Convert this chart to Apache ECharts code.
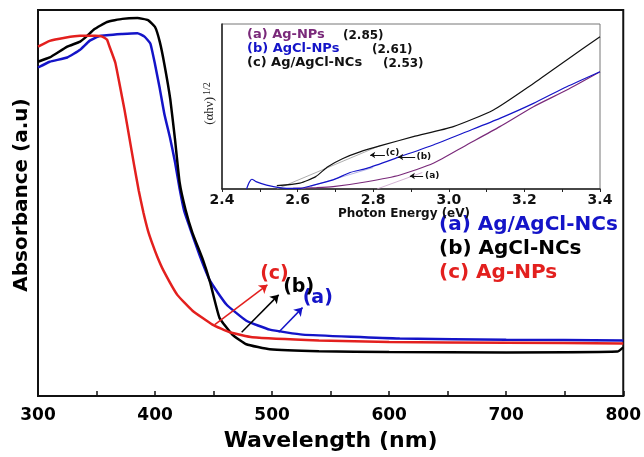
<!DOCTYPE html>
<html>
<head>
<meta charset="utf-8">
<script src="https://cdn.jsdelivr.net/npm/echarts@6/dist/echarts.min.js"></script>
<style>
  html, body { margin: 0; padding: 0; background: #fff; }
  #chart { width: 644px; height: 457px; }
</style>
</head>
<body>
<div id="chart"></div>
<script>
// main plot: absorbance vs wavelength
const wlTicks = [300, 400, 500, 600, 700, 800]
const seriesNames = ['(a) Ag/AgCl-NCs', '(b) AgCl-NCs', '(c) Ag-NPs']

const blueX = [300, 310, 325, 336, 344, 353, 372, 385, 391, 396, 400, 404, 408, 413, 417, 421, 425, 430, 438, 447, 461, 478, 498, 526, 609, 700, 800]
const blueY = [85.1, 86.6, 87.7, 89.7, 92.0, 93.3, 93.8, 94.0, 93.1, 91.3, 85.9, 79.7, 73.0, 66.6, 60.7, 53.7, 47.8, 43.4, 36.5, 29.8, 23.7, 19.5, 17.2, 15.9, 14.9, 14.6, 14.4]

const blackX = [300, 310, 325, 336, 342, 348, 359, 372, 385, 394, 400, 404, 408, 413, 417, 421, 426, 432, 441, 447, 455, 466, 478, 498, 540, 600, 700, 795, 800]
const blackY = [86.6, 87.7, 90.5, 91.8, 93.3, 95.0, 96.9, 97.7, 97.9, 97.4, 95.6, 91.8, 85.9, 76.9, 66.6, 55.3, 48.3, 42.2, 35.2, 29.5, 20.3, 15.9, 13.4, 12.1, 11.6, 11.4, 11.3, 11.5, 12.6]

const redX = [300, 310, 323, 336, 349, 355, 359, 361, 366, 370, 374, 378, 382, 386, 390, 394, 398, 402, 407, 419, 432, 449, 464, 483, 540, 600, 700, 800]
const redY = [90.5, 92.0, 92.8, 93.3, 93.3, 93.1, 92.3, 90.6, 86.4, 80.3, 74.0, 67.0, 60.0, 53.3, 47.6, 42.8, 39.2, 36.0, 32.6, 26.2, 22.1, 18.5, 16.5, 15.2, 14.4, 14.0, 13.8, 13.6]

// inset: (alpha h nu)^1/2 vs photon energy
const eTicks = [2.4, 2.6, 2.8, 3.0, 3.2, 3.4]
const insetNames = ['(a) Ag-NPs', '(b) AgCl-NPs', '(c) Ag/AgCl-NCs']
const insetGaps = ['(2.85)', '(2.61)', '(2.53)']

const aX = [2.588, 2.65, 2.694, 2.783, 2.871, 2.959, 3.047, 3.135, 3.224, 3.312, 3.4]
const aY = [0.4, 0.8, 1.4, 4.4, 8.5, 15.6, 26.7, 37.8, 49.9, 60.0, 71.1]

const bX = [2.465, 2.472, 2.479, 2.49, 2.518, 2.571, 2.606, 2.633, 2.694, 2.739, 2.783, 2.871, 2.959, 3.047, 3.135, 3.224, 3.312, 3.4]
const bY = [0, 4.0, 5.9, 4.5, 2.4, 0.4, 0.4, 1.8, 5.5, 10.0, 12.5, 19.6, 26.7, 34.7, 42.8, 51.9, 62.0, 71.1]

const cX = [2.545, 2.606, 2.648, 2.68, 2.72, 2.765, 2.827, 2.906, 3.012, 3.118, 3.224, 3.312, 3.4]
const cY = [2.0, 3.6, 7.5, 13.5, 18.5, 22.5, 26.7, 31.7, 37.8, 47.9, 64.0, 78.2, 92.3]

// band-gap tangent lines
const aTanX = [2.81, 2.93]
const aTanY = [0, 10]
const bTanX = [2.61, 2.80]
const bTanY = [0, 13]
const cTanX = [2.545, 2.82]
const cTanY = [0, 26.5]

const BLUE = '#1414c8'
const RED = '#e3201e'
const BLACK = '#000000'
const PURPLE = '#7a2a7a'
const FONT = 'DejaVu Sans'

const pts = (xs, ys) => xs.map((x, i) => [x, ys[i]])

function arrow (color, from, to, width, size) {
  return {
    silent: true,
    symbol: ['none', 'arrow'],
    symbolSize: size,
    label: { show: false },
    lineStyle: { color: color, width: width, type: 'solid' },
    emphasis: { disabled: true },
    data: [[{ coord: from }, { coord: to }]]
  }
}

function tag (text, color, at, size) {
  return {
    silent: true,
    symbol: 'circle',
    symbolSize: 0,
    label: { show: true, position: 'inside', formatter: text, color: color, fontFamily: FONT, fontWeight: 'bold', fontSize: size },
    data: [{ coord: at }]
  }
}

const chart = echarts.init(document.getElementById('chart'))

const option = {
  animation: false,
  backgroundColor: '#fff',
  grid: [
    { left: 38, top: 10, width: 586, height: 389, show: true, borderColor: '#111', borderWidth: 2 },
    { left: 222, top: 24, width: 378, height: 165, show: true, borderColor: '#777', borderWidth: 1, backgroundColor: '#fff' }
  ],
  xAxis: [
    {
      gridIndex: 0, type: 'value', min: wlTicks[0], max: wlTicks[wlTicks.length - 1], interval: wlTicks[1] - wlTicks[0],
      name: 'Wavelength (nm)', nameLocation: 'middle', nameGap: 34,
      nameTextStyle: { fontFamily: FONT, fontWeight: 'bold', fontSize: 22, color: '#000' },
      axisLine: { lineStyle: { color: '#111', width: 2 } },
      axisTick: { inside: true, length: 5, lineStyle: { color: '#111', width: 1.5 } },
      minorTick: { show: true, splitNumber: 2, length: 5, lineStyle: { color: '#111', width: 1.5 } },
      axisLabel: { margin: 11, fontFamily: FONT, fontWeight: 'bold', fontSize: 17, color: '#000' },
      splitLine: { show: false }
    },
    {
      gridIndex: 1, type: 'value', min: eTicks[0], max: eTicks[eTicks.length - 1], interval: 0.2,
      name: 'Photon Energy (eV)', nameLocation: 'middle', nameGap: 17,
      nameTextStyle: { fontFamily: FONT, fontWeight: 'bold', fontSize: 12, color: '#111', padding: [0, 14, 0, 0] },
      axisLine: { lineStyle: { color: '#222', width: 1.5 } },
      axisTick: { length: 3, lineStyle: { color: '#222' } },
      minorTick: { show: true, splitNumber: 2, length: 3, lineStyle: { color: '#222' } },
      axisLabel: { margin: 4, fontFamily: FONT, fontWeight: 'bold', fontSize: 14, color: '#111', formatter: v => v.toFixed(1) },
      splitLine: { show: false }
    }
  ],
  yAxis: [
    {
      gridIndex: 0, type: 'value', min: 0, max: 100,
      name: 'Absorbance (a.u)', nameLocation: 'middle', nameGap: 6, nameRotate: 90,
      nameTextStyle: { fontFamily: FONT, fontWeight: 'bold', fontSize: 20, color: '#000', padding: [0, 0, 0, 16] },
      axisLine: { show: true, lineStyle: { color: '#111', width: 2 } },
      axisTick: { show: false },
      axisLabel: { show: false },
      splitLine: { show: false }
    },
    {
      gridIndex: 1, type: 'value', min: 0, max: 100,
      name: '{m|(αhν)}{s|1/2}', nameLocation: 'middle', nameGap: 4, nameRotate: 90,
      nameTextStyle: {
        color: '#222',
        padding: [0, 0, 0, 6],
        rich: {
          m: { fontFamily: 'Liberation Sans Narrow', fontSize: 13, color: '#222' },
          s: { fontFamily: 'Liberation Sans Narrow', fontSize: 10, color: '#222', verticalAlign: 'top', padding: [0, 0, 6, 2] }
        }
      },
      axisLine: { show: true, lineStyle: { color: '#222', width: 1.5 } },
      axisTick: { show: false },
      axisLabel: { show: false },
      splitLine: { show: false }
    }
  ],
  series: [
    {
      name: seriesNames[0], type: 'line', xAxisIndex: 0, yAxisIndex: 0, data: pts(blueX, blueY),
      showSymbol: false, smooth: 0.12, lineStyle: { color: BLUE, width: 2.5 },
      markLine: arrow(BLUE, [505.6, 16.5], [526, 22.9], 1.5, 8),
      markPoint: tag('(a)', BLUE, [539, 25.5], 19)
    },
    {
      name: seriesNames[1], type: 'line', xAxisIndex: 0, yAxisIndex: 0, data: pts(blackX, blackY),
      showSymbol: false, smooth: 0.12, lineStyle: { color: BLACK, width: 2.5 },
      markLine: arrow(BLACK, [474, 16.5], [505.6, 26.2], 1.5, 8),
      markPoint: tag('(b)', BLACK, [522.7, 28.3], 19)
    },
    {
      name: seriesNames[2], type: 'line', xAxisIndex: 0, yAxisIndex: 0, data: pts(redX, redY),
      showSymbol: false, smooth: 0.12, lineStyle: { color: RED, width: 2.5 },
      markLine: arrow(RED, [451, 18.5], [496, 28.8], 1.5, 8),
      markPoint: tag('(c)', RED, [502, 31.6], 19)
    },
    {
      name: 'tan-a', type: 'line', xAxisIndex: 1, yAxisIndex: 1, data: pts(aTanX, aTanY),
      showSymbol: false, lineStyle: { color: '#c8a0c8', width: 0.8 }
    },
    {
      name: 'tan-b', type: 'line', xAxisIndex: 1, yAxisIndex: 1, data: pts(bTanX, bTanY),
      showSymbol: false, lineStyle: { color: '#a0a0e0', width: 0.8 }
    },
    {
      name: 'tan-c', type: 'line', xAxisIndex: 1, yAxisIndex: 1, data: pts(cTanX, cTanY),
      showSymbol: false, lineStyle: { color: '#999', width: 0.8 }
    },
    {
      name: insetNames[0], type: 'line', xAxisIndex: 1, yAxisIndex: 1, data: pts(aX, aY),
      showSymbol: false, smooth: 0.2, lineStyle: { color: PURPLE, width: 1.2 },
      markLine: arrow('#111', [2.932, 7.9], [2.897, 7.9], 1, 5),
      markPoint: tag('(a)', '#111', [2.956, 7.9], 9)
    },
    {
      name: insetNames[1], type: 'line', xAxisIndex: 1, yAxisIndex: 1, data: pts(bX, bY),
      showSymbol: false, smooth: 0.2, lineStyle: { color: BLUE, width: 1.2 },
      markLine: arrow('#111', [2.911, 19.4], [2.866, 19.4], 1, 5),
      markPoint: tag('(b)', '#111', [2.934, 19.4], 9)
    },
    {
      name: insetNames[2], type: 'line', xAxisIndex: 1, yAxisIndex: 1, data: pts(cX, cY),
      showSymbol: false, smooth: 0.2, lineStyle: { color: '#111', width: 1.2 },
      markLine: arrow('#111', [2.831, 20.6], [2.792, 20.6], 1, 5),
      markPoint: tag('(c)', '#111', [2.851, 21.8], 9)
    }
  ],
  graphic: [
    { type: 'text', left: 439, top: 215, style: { text: seriesNames[0], fill: BLUE, font: 'bold 20px "DejaVu Sans"' } },
    { type: 'text', left: 439, top: 239, style: { text: seriesNames[1], fill: BLACK, font: 'bold 20px "DejaVu Sans"' } },
    { type: 'text', left: 439, top: 263, style: { text: seriesNames[2], fill: RED, font: 'bold 20px "DejaVu Sans"' } },
    { type: 'text', left: 247, top: 28, style: { text: insetNames[0], fill: PURPLE, font: 'bold 13px "DejaVu Sans"' } },
    { type: 'text', left: 247, top: 42, style: { text: insetNames[1], fill: BLUE, font: 'bold 13px "DejaVu Sans"' } },
    { type: 'text', left: 247, top: 56, style: { text: insetNames[2], fill: '#111', font: 'bold 13px "DejaVu Sans"' } },
    { type: 'text', left: 343, top: 30, style: { text: insetGaps[0], fill: '#111', font: 'bold 12px "DejaVu Sans"' } },
    { type: 'text', left: 372, top: 44, style: { text: insetGaps[1], fill: '#111', font: 'bold 12px "DejaVu Sans"' } },
    { type: 'text', left: 383, top: 58, style: { text: insetGaps[2], fill: '#111', font: 'bold 12px "DejaVu Sans"' } }
  ]
}

chart.setOption(option)
</script>
</body>
</html>
